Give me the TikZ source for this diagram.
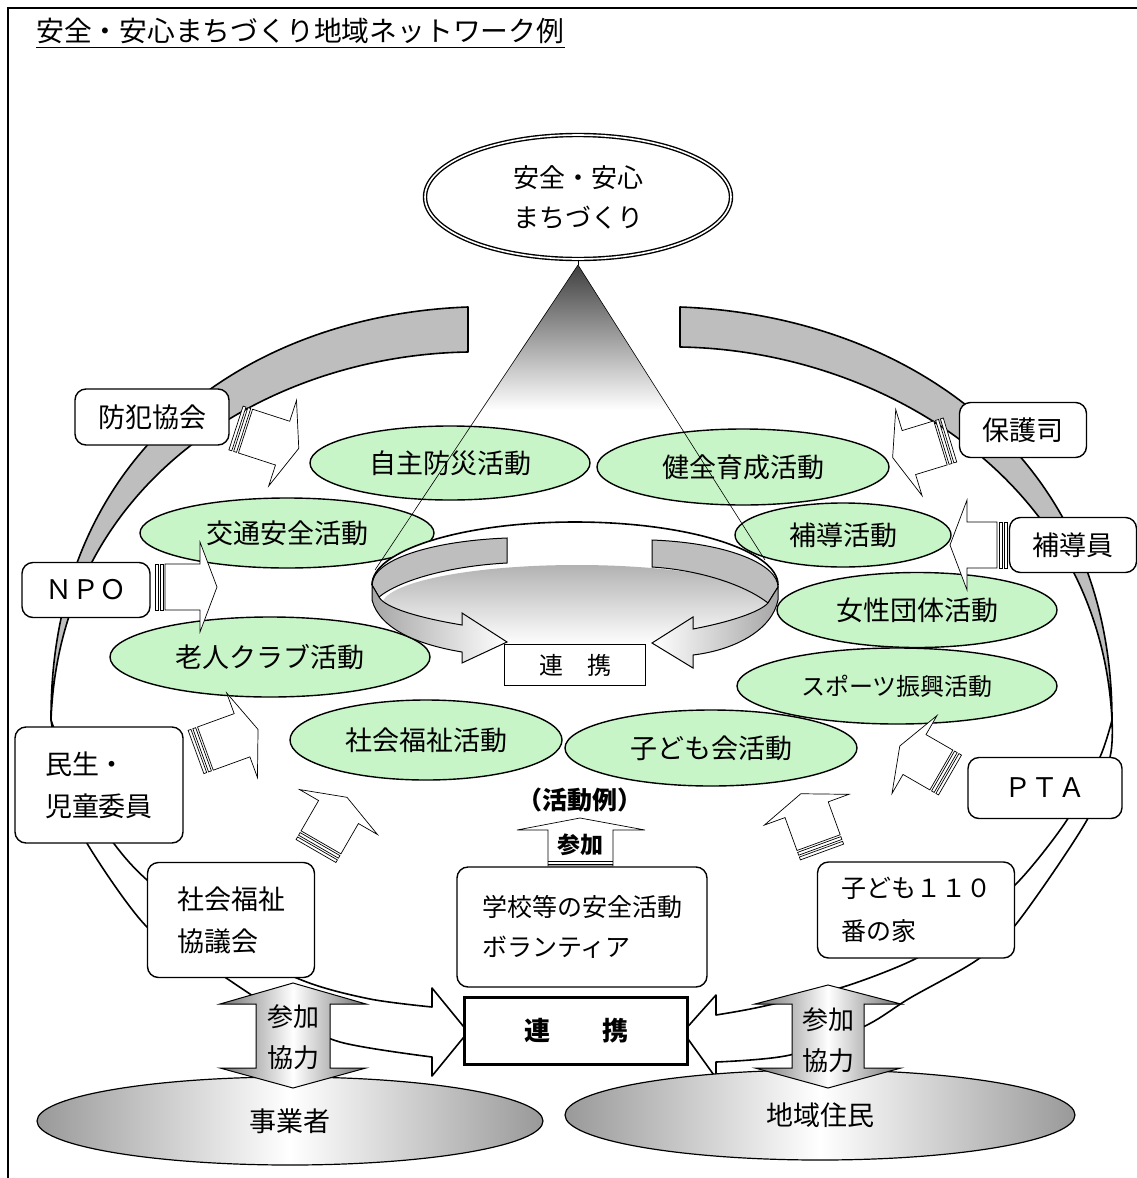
\documentclass[tikz,border=0pt]{standalone}
\usepackage{fontspec}
\setmainfont{Noto Sans CJK JP}
\usetikzlibrary{shapes.geometric}

\definecolor{actgreen}{RGB}{200,245,200}
\definecolor{bandgray}{RGB}{190,190,190}

\tikzset{
  activity/.style={ellipse, draw, line width=1.4pt, fill=actgreen, inner sep=0pt,
    font=\fontsize{27}{32}\selectfont},
  member/.style={draw, line width=1.4pt, rounded corners=11pt, fill=white, inner sep=0pt,
    align=left, font=\fontsize{27}{42}\selectfont},
  band/.style={draw, line width=1.6pt, line join=round},
  pillar/.style={draw, line width=1pt, left color=black!55, right color=black!55, middle color=white},
  people/.style={ellipse, draw, line width=1.2pt, left color=black!40, right color=black!40,
    middle color=white, inner sep=0pt, font=\fontsize{27}{32}\selectfont},
  linkbox/.style={draw, fill=white, inner sep=0pt},
}

% striped block arrow: tail x, tail y, angle, length
\newcommand{\stripearrow}[4]{%
  \begin{scope}[shift={(#1,#2)}, rotate=#3, line width=0.7pt]
    \filldraw[fill=white] (0,-23) rectangle (3,23) (5,-23) rectangle (8,23);
    \filldraw[fill=white] (10,-23) -- (#4-17,-23) -- (#4-17,-45) -- (#4,0)
      -- (#4-17,45) -- (#4-17,23) -- (10,23) -- cycle;
  \end{scope}}

\begin{document}
\begin{tikzpicture}[x=1pt, y=-1pt]
  \useasboundingbox (0,0) rectangle (1137,1178);
  \draw [line width=1.8pt] (8,1178) -- (8,8) -- (1137,8);

  \node [anchor=west, inner sep=0pt, font=\fontsize{27.8}{32}\selectfont] (title) at (36,31)
    {安全・安心まちづくり地域ネットワーク例};
  \draw [line width=0.9pt] ([yshift=-3pt]title.south west) -- ([yshift=-3pt]title.south east);

  % big ring, left half
  \draw [band, fill=bandgray]
  (468,307) .. controls (250,315) and (50,450) .. (51,720)
  .. controls (60,480) and (270,355) .. (468,352) -- cycle;
  \draw [band, fill=white]
  plot [smooth] coordinates {(51,720) (64,790) (88,845) (147,927) (211,968) (280,1013) (340,1042) (432,1057)}
  -- (432,1076) -- (468,1032) -- (432,988) -- (432,1007)
  -- plot [smooth] coordinates {(432,1007) (370,999) (304,981) (220,940) (147,880) (115,845) (78,790) (51,720)}
  -- cycle;

  % big ring, right half
  \draw [band, fill=bandgray]
  (680,307) .. controls (900,315) and (1112,450) .. (1112,720)
  .. controls (1100,480) and (880,350) .. (680,347) -- cycle;
  \draw [band, fill=white]
  plot [smooth] coordinates {(1112,720) (1110,757) (1087,820) (1017,923) (977,960) (910,998) (865,1026) (790,1055) (716,1062)}
  -- (716,1078) -- (683,1032) -- (716,995) -- (716,1015)
  -- plot [smooth] coordinates {(716,1015) (760,1007) (843,987) (913,960) (960,930) (1017,883) (1067,820) (1100,757) (1112,720)}
  -- cycle;

  % bottom groups
  \node [people, minimum width=506, minimum height=88] (biz) at (290,1121) {事業者};
  \node [people, minimum width=510, minimum height=90] (res) at (820,1115) {地域住民};

  \draw [pillar]
  (293,983) -- (366,1004) -- (330,1004) -- (330,1068) -- (366,1068) -- (293,1088)
  -- (220,1068) -- (256,1068) -- (256,1004) -- (220,1004) -- cycle;
  \draw [pillar]
  (828,985) -- (901,1004) -- (864,1004) -- (864,1068) -- (901,1068) -- (828,1088)
  -- (755,1068) -- (792,1068) -- (792,1004) -- (755,1004) -- cycle;
  \node [font=\fontsize{26}{41}\selectfont, align=center] (joinL) at (293,1037) {参加\\協力};
  \node [font=\fontsize{26}{41}\selectfont, align=center] (joinR) at (828,1040) {参加\\協力};

  \node [linkbox, line width=2.2pt, minimum width=223, minimum height=67,
    font=\bfseries\fontsize{26}{30}\selectfont] (link) at (576,1031) {連　　携};

  % activities
  \node [activity, minimum width=280, minimum height=74] (bousai) at (450,463) {自主防災活動};
  \node [activity, minimum width=292, minimum height=76] (ikusei) at (743,467) {健全育成活動};
  \node [activity, minimum width=294, minimum height=70] (koutsu) at (287,533) {交通安全活動};
  \node [activity, minimum width=216, minimum height=64] (hodou) at (843,535) {補導活動};
  \node [activity, minimum width=280, minimum height=75] (josei) at (917,610) {女性団体活動};
  \node [activity, minimum width=320, minimum height=80] (roujin) at (270,657) {老人クラブ活動};
  \node [activity, minimum width=320, minimum height=76, font=\fontsize{24}{28}\selectfont]
    (sports) at (897,686) {スポーツ振興活動};
  \node [activity, minimum width=272, minimum height=80] (fukushi) at (426,740) {社会福祉活動};
  \node [activity, minimum width=292, minimum height=76] (kodomo) at (711,748) {子ども会活動};

  % center disk
  \fill [white]
  (372,585) arc [start angle=180, end angle=360, x radius=203, y radius=63] -- cycle;
  \shade [top color=black!30, bottom color=white] (577,605) ellipse [x radius=195, y radius=40];
  \draw [line width=1pt, fill=bandgray]
  (507,538) .. controls (430,541) and (372,560) .. (372,585) -- (379,597)
  .. controls (400,580) and (450,566) .. (507,563) -- cycle;
  \draw [line width=1pt, fill=bandgray]
  (652,540) .. controls (730,543) and (778,565) .. (778,587) -- (768,603)
  .. controls (745,585) and (700,570) .. (652,567) -- cycle;
  \draw [line width=1pt, left color=black!35, right color=white]
  (372,585) -- (372,600) .. controls (380,630) and (420,645) .. (462,652)
  -- (462,663) -- (507,642) -- (462,613) -- (462,625)
  .. controls (420,618) and (385,608) .. (379,597) -- cycle;
  \draw [line width=1pt, left color=white, right color=black!35]
  (778,587) -- (778,600) .. controls (772,630) and (735,650) .. (693,655)
  -- (693,668) -- (652,643) -- (693,617) -- (693,629)
  .. controls (730,622) and (760,612) .. (768,603) -- cycle;
  \draw [line width=1.6pt] (372,585) arc [start angle=180, end angle=360, x radius=203, y radius=63];
  \node [linkbox, line width=1.6pt, minimum width=141, minimum height=41,
    font=\fontsize{24}{28}\selectfont] (hub) at (575,665) {連　携};

  % spotlight
  \coordinate (apex) at (578,265);
  \shade [top color=black!75, bottom color=white] (apex) -- (481,410) -- (670,410) -- cycle;
  \draw [line width=0.6pt] (apex) -- (375,570) (apex) -- (765,560);

  \node [ellipse, draw, double, line width=1.4pt, double distance=1.6pt, fill=white,
    minimum width=306, minimum height=124, inner sep=0pt, align=center,
    font=\fontsize{26}{40}\selectfont] (goal) at (578,197) {安全・安心\\まちづくり};
  \draw [line width=0.6pt] (goal.south) -- (apex);

  % members
  \node [member, minimum width=154, minimum height=56] (bouhan) at (152,417) {防犯協会};
  \node [member, minimum width=128, minimum height=55] (npo) at (86,590) {ＮＰＯ};
  \node [member, minimum width=127, minimum height=55] (hogo) at (1023,430) {保護司};
  \node [member, minimum width=127, minimum height=55] (hodouin) at (1073,545) {補導員};
  \node [member, minimum width=168, minimum height=116] (minsei) at (99,785) {民生・\\児童委員};
  \node [member, minimum width=167, minimum height=115] (shakyo) at (231,920) {社会福祉\\協議会};
  \node [member, minimum width=250, minimum height=120, font=\fontsize{25}{40}\selectfont]
    (school) at (582,927) {学校等の安全活動\\ボランティア};
  \node [member, minimum width=154, minimum height=61] (pta) at (1045,788) {ＰＴＡ};
  \node [member, minimum width=197, minimum height=96, font=\fontsize{25}{43}\selectfont]
    (house) at (916,910) {子ども１１０\\番の家};

  % participation arrow
  \draw [line width=0.7pt, fill=white]
  (548,866) -- (548,830) -- (517,830) -- (580,818) -- (645,830) -- (613,830) -- (613,866) -- cycle;
  \draw [line width=0.7pt] (548,861) -- (613,861) (548,864) -- (613,864);
  \node [font=\bfseries\fontsize{23}{28}\selectfont] (sanka) at (580,845) {参加};
  \node [font=\bfseries\fontsize{25}{30}\selectfont] (rei) at (580,800) {（活動例）};

  % striped arrows
  \stripearrow{236}{428}{-18}{66}
  \stripearrow{155}{587}{0}{62}
  \stripearrow{196}{752}{20}{66}
  \stripearrow{316}{851}{60}{62}
  \stripearrow{822}{852}{110}{62}
  \stripearrow{950}{775}{150}{58}
  \stripearrow{1007}{545}{180}{57}
  \stripearrow{950}{440}{197}{60}
\end{tikzpicture}
\end{document}
